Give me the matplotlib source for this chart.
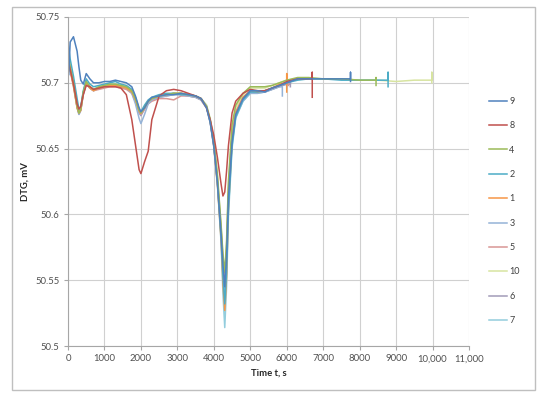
import matplotlib
matplotlib.use("Agg")
import matplotlib.pyplot as plt
from matplotlib.patches import Rectangle

plt.rcParams['font.family'] = ['Lato', 'DejaVu Sans']

# Common time grid (s)
T = [0, 20, 60, 150, 250, 300, 350, 420, 500, 600,
     700, 850, 1000, 1150, 1300, 1450, 1600, 1750, 1850, 1950,
     2000, 2100, 2200, 2300, 2500, 2700, 2900, 3100, 3300, 3500,
     3650, 3800, 3900, 4000, 4100, 4200, 4250, 4300, 4350, 4400,
     4500, 4600, 4800, 5000, 5200, 5400, 5600, 5800, 6000, 6300,
     6600, 7000, 7500, 8000, 8500, 9000, 9500, 10000]

s9 = [50.745, 50.706, 50.731, 50.735, 50.724, 50.712, 50.702, 50.699, 50.707, 50.703,
      50.700, 50.700, 50.701, 50.701, 50.702, 50.701, 50.700, 50.697, 50.690, 50.681,
      50.678, 50.681, 50.686, 50.689, 50.690, 50.691, 50.691, 50.692, 50.691, 50.690,
      50.688, 50.681, 50.670, 50.652, 50.624, 50.585, 50.562, 50.545, 50.568, 50.612,
      50.655, 50.676, 50.688, 50.694, 50.694, 50.693, 50.696, 50.698, 50.700, 50.703,
      50.703, 50.703, 50.703]
s8 = [50.718, 50.715, 50.710, 50.699, 50.684, 50.680, 50.682, 50.691, 50.698, 50.697,
      50.695, 50.696, 50.697, 50.697, 50.697, 50.696, 50.691, 50.672, 50.653, 50.634,
      50.631, 50.640, 50.648, 50.672, 50.690, 50.694, 50.695, 50.694, 50.692, 50.690,
      50.688, 50.681, 50.672, 50.660, 50.643, 50.623, 50.614, 50.617, 50.633, 50.652,
      50.677, 50.686, 50.692, 50.695, 50.694, 50.694, 50.696, 50.698, 50.701, 50.703,
      50.703]
s4 = [50.722, 50.718, 50.712, 50.700, 50.682, 50.677, 50.680, 50.693, 50.701, 50.697,
      50.695, 50.697, 50.698, 50.699, 50.699, 50.698, 50.697, 50.694, 50.688, 50.679,
      50.677, 50.681, 50.686, 50.688, 50.690, 50.691, 50.692, 50.692, 50.691, 50.690,
      50.688, 50.682, 50.672, 50.656, 50.630, 50.592, 50.570, 50.556, 50.580, 50.625,
      50.668, 50.683, 50.692, 50.697, 50.697, 50.697, 50.698, 50.700, 50.702, 50.704,
      50.704, 50.703, 50.703, 50.702]
s2 = [50.730, 50.726, 50.718, 50.705, 50.688, 50.680, 50.682, 50.694, 50.703, 50.699,
      50.697, 50.698, 50.699, 50.700, 50.701, 50.699, 50.698, 50.695, 50.689, 50.680,
      50.678, 50.683, 50.687, 50.689, 50.691, 50.692, 50.692, 50.691, 50.691, 50.690,
      50.688, 50.682, 50.671, 50.653, 50.624, 50.582, 50.553, 50.532, 50.556, 50.603,
      50.652, 50.674, 50.687, 50.693, 50.693, 50.694, 50.696, 50.698, 50.700, 50.702,
      50.703, 50.703, 50.702, 50.702, 50.702]
s1 = [50.720, 50.716, 50.710, 50.698, 50.681, 50.677, 50.679, 50.692, 50.700, 50.696,
      50.694, 50.696, 50.697, 50.698, 50.698, 50.697, 50.696, 50.693, 50.687, 50.679,
      50.677, 50.682, 50.686, 50.688, 50.690, 50.691, 50.692, 50.692, 50.691, 50.690,
      50.688, 50.682, 50.671, 50.652, 50.622, 50.580, 50.548, 50.527, 50.552, 50.604,
      50.656, 50.677, 50.689, 50.694, 50.693, 50.694, 50.696, 50.699]
s3 = [50.721, 50.717, 50.711, 50.699, 50.682, 50.676, 50.679, 50.692, 50.700, 50.696,
      50.694, 50.696, 50.697, 50.698, 50.698, 50.697, 50.696, 50.692, 50.684, 50.673,
      50.669, 50.676, 50.684, 50.687, 50.689, 50.690, 50.691, 50.691, 50.690, 50.689,
      50.687, 50.681, 50.670, 50.651, 50.622, 50.583, 50.559, 50.541, 50.564, 50.610,
      50.654, 50.674, 50.686, 50.692, 50.692, 50.693, 50.695, 50.697]
s5 = [50.719, 50.715, 50.709, 50.697, 50.681, 50.677, 50.680, 50.692, 50.699, 50.696,
      50.694, 50.695, 50.696, 50.697, 50.697, 50.696, 50.695, 50.692, 50.686, 50.678,
      50.676, 50.680, 50.684, 50.686, 50.688, 50.688, 50.687, 50.690, 50.690, 50.689,
      50.687, 50.681, 50.671, 50.654, 50.626, 50.588, 50.566, 50.550, 50.572, 50.617,
      50.660, 50.678, 50.689, 50.694, 50.693, 50.694, 50.696, 50.698, 50.700]
s10 = [50.720, 50.716, 50.710, 50.698, 50.682, 50.678, 50.681, 50.693, 50.700, 50.697,
       50.695, 50.696, 50.697, 50.698, 50.698, 50.697, 50.696, 50.693, 50.687, 50.679,
       50.677, 50.681, 50.685, 50.688, 50.690, 50.691, 50.692, 50.692, 50.691, 50.690,
       50.688, 50.683, 50.673, 50.656, 50.628, 50.590, 50.568, 50.552, 50.575, 50.620,
       50.664, 50.681, 50.691, 50.696, 50.696, 50.696, 50.698, 50.700, 50.702, 50.703,
       50.703, 50.703, 50.703, 50.702, 50.702, 50.701, 50.702]
s6 = [50.721, 50.717, 50.711, 50.699, 50.681, 50.676, 50.679, 50.691, 50.699, 50.696,
      50.694, 50.696, 50.697, 50.698, 50.698, 50.697, 50.696, 50.693, 50.686, 50.677,
      50.675, 50.680, 50.685, 50.687, 50.689, 50.690, 50.691, 50.691, 50.690, 50.689,
      50.687, 50.681, 50.670, 50.652, 50.624, 50.586, 50.563, 50.547, 50.570, 50.614,
      50.657, 50.676, 50.688, 50.693, 50.693, 50.693, 50.695, 50.697, 50.699]
s7 = [50.723, 50.719, 50.713, 50.701, 50.683, 50.678, 50.681, 50.693, 50.701, 50.697,
      50.695, 50.697, 50.698, 50.699, 50.699, 50.698, 50.697, 50.694, 50.688, 50.680,
      50.677, 50.682, 50.686, 50.688, 50.690, 50.691, 50.692, 50.692, 50.691, 50.690,
      50.688, 50.683, 50.672, 50.653, 50.623, 50.578, 50.540, 50.514, 50.545, 50.598,
      50.650, 50.673, 50.686, 50.692, 50.692, 50.693, 50.695, 50.698]

labels = ['9', '8', '4', '2', '1', '3', '5', '10', '6', '7']
series = [s9, s8, s4, s2, s1, s3, s5, s10, s6, s7]
end_times = [7750, 6700, 8450, 8780, 6000, 5880, 6050, 9980, 6100, 6000]
end_level = [50.703, 50.703, 50.702, 50.702, 50.700, 50.697, 50.700, 50.702, 50.699, 50.699]
end_hi = [50.708, 50.708, 50.704, 50.708, 50.707, 50.697, 50.702, 50.708, 50.701, 50.701]
end_lo = [50.701, 50.689, 50.698, 50.697, 50.693, 50.690, 50.698, 50.700, 50.697, 50.696]
colors = ['#4F81BD', '#C0504D', '#9BBB59', '#4BACC6', '#F79646',
          '#95B3D7', '#D99694', '#D7E4A0', '#A29BB8', '#93CDDD']

x_ticks = [0, 1000, 2000, 3000, 4000, 5000, 6000, 7000, 8000, 9000, 10000, 11000]
x_tick_labels = ['0', '1000', '2000', '3000', '4000', '5000', '6000', '7000',
                 '8000', '9000', '10,000', '11,000']
y_ticks = [50.5, 50.55, 50.6, 50.65, 50.7, 50.75]
y_tick_labels = ['50.5', '50.55', '50.6', '50.65', '50.7', '50.75']

fig = plt.figure(figsize=(5.5, 3.96), dpi=100)
ax = fig.add_axes([68/550, 1-346/396, (469-68)/550, (346-17)/396])

lines = {}
order = [9, 8, 7, 6, 5, 4, 3, 2, 1, 0]
for i in order:
    vals = series[i]
    tt = T[:len(vals)] + [end_times[i], end_times[i], end_times[i]]
    vv = list(vals) + [end_level[i], end_hi[i], end_lo[i]]
    ln, = ax.plot(tt, vv, color=colors[i], lw=1.1, label=labels[i],
                  solid_joinstyle='round')
    lines[i] = ln

ax.set_xlim(0, 11000)
ax.set_ylim(50.5, 50.75)
ax.set_xticks(x_ticks)
ax.set_xticklabels(x_tick_labels)
ax.set_yticks(y_ticks)
ax.set_yticklabels(y_tick_labels)
ax.grid(True, color='#D0D0D0', lw=0.8)
ax.set_axisbelow(True)
for side in ['top', 'right']:
    ax.spines[side].set_visible(False)
for side in ['left', 'bottom']:
    ax.spines[side].set_color('#A6A6A6')
    ax.spines[side].set_linewidth(0.8)
ax.tick_params(axis='both', colors='#A6A6A6', labelcolor='#505050',
               labelsize=6.8, length=3, width=0.8, pad=3)

ax.set_xlabel('Time t, s', fontsize=6.8, fontweight='bold', color='#262626', labelpad=4)
ax.set_ylabel('DTG, mV', fontsize=6.8, fontweight='bold', color='#262626', labelpad=4)

handles = [lines[i] for i in range(10)]
fig.legend(handles, labels, loc='center left', bbox_to_anchor=(484/550, 1-211/396),
           frameon=False, fontsize=6.5, labelspacing=1.7, handlelength=2.0,
           handletextpad=0.3, borderpad=0, labelcolor='#404040')

fig.patches.append(Rectangle((12/550, 1-390/396), 523/550, 383/396,
                             transform=fig.transFigure, fill=False,
                             edgecolor='#BFBFBF', lw=1.0))

fig.savefig('out.png', dpi=100)
